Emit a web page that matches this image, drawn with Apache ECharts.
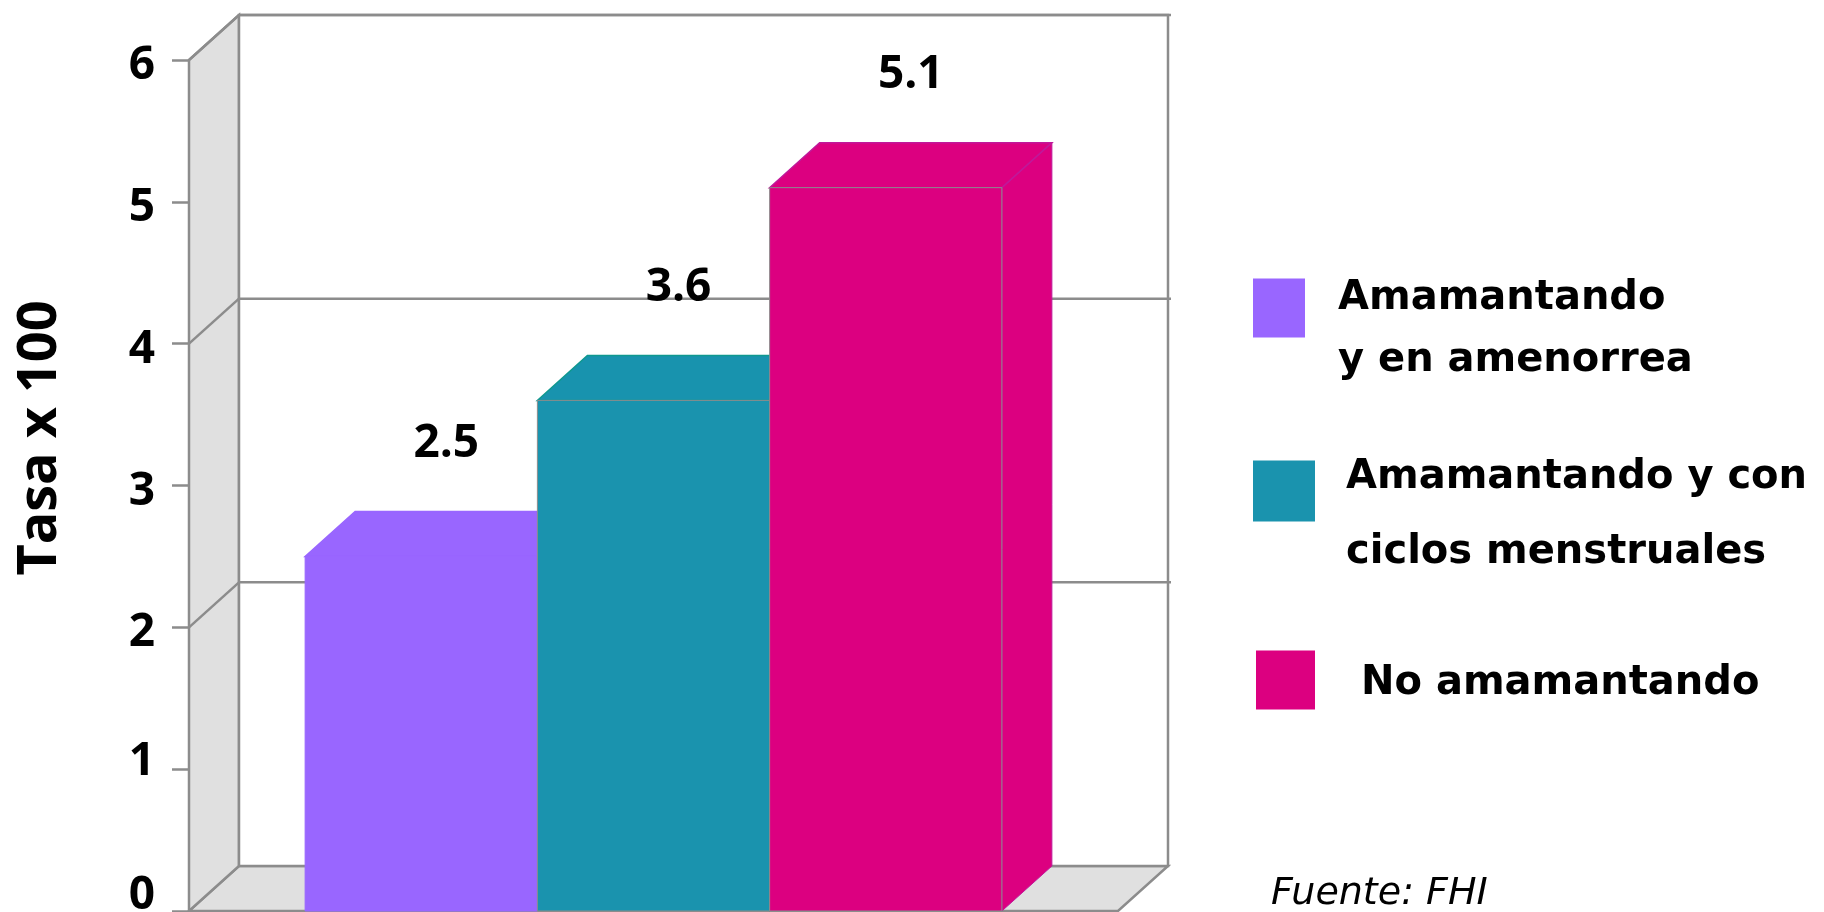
<!DOCTYPE html>
<html>
<head>
<meta charset="utf-8">
<script src="https://cdn.jsdelivr.net/npm/echarts@6/dist/echarts.min.js"></script>
<style>
html, body { margin: 0; padding: 0; background: #fff; }
#chart { width: 1824px; height: 912px; }
</style>
</head>
<body>
<div id="chart"></div>
<script>
// datos
var seriesNames = ['Amamantando\ny en amenorrea', 'Amamantando y con\nciclos menstruales', 'No amamantando']
var seriesValues = [2.5, 3.6, 5.1]
var yTicks = [0, 1, 2, 3, 4, 5, 6]
var gridValues = [2, 4, 6]
var axisTitle = 'Tasa x 100'
var sourceText = 'Fuente: FHI'

// estilos
var frontColors = ['#9966FF', '#1A93AE', '#DC0080']
var topColors = ['#9966FF', '#1893AE', '#DC0080']
var edgeColors = ['#9966FF', '#0E9890', '#C0189A']
var DX = 50, DY = -45        // profundidad del efecto 3D
var frameColor = '#8C8C8C'
var wallColor = '#E0E0E0'
var FONT = '"Open Sans", "DejaVu Sans", sans-serif'
var WIDE = '"DejaVu Sans", sans-serif'

var chart = echarts.init(document.getElementById('chart'))

/* paredes, suelo y lineas de division */
function renderFrame(params, api) {
  var base = api.coord([0, yTicks[0]])
  var band = api.size([1, 0])[0]
  var x0 = base[0] - band / 2, x1 = base[0] + band / 2
  var y0 = base[1]
  var yTop = api.coord([0, yTicks[yTicks.length - 1]])[1]
  var line = {stroke: frameColor, lineWidth: 2.5}
  var children = [
    {type: 'polygon', shape: {points: [[x0, y0], [x1, y0], [x1 + DX, y0 + DY], [x0 + DX, y0 + DY]]},
      style: {fill: wallColor, stroke: frameColor, lineWidth: 2.5}},
    {type: 'polygon', shape: {points: [[x0, y0], [x0, yTop], [x0 + DX, yTop + DY], [x0 + DX, y0 + DY]]},
      style: {fill: wallColor, stroke: frameColor, lineWidth: 2.5}},
    {type: 'rect', shape: {x: x0 + DX, y: yTop + DY, width: x1 - x0, height: y0 - yTop},
      style: {fill: '#fff', stroke: frameColor, lineWidth: 2.5}}
  ]
  gridValues.forEach(function (v) {
    var y = api.coord([0, v])[1]
    children.push({type: 'line', shape: {x1: x0 + DX, y1: y + DY, x2: x1 + DX + 3, y2: y + DY}, style: line})
    children.push({type: 'line', shape: {x1: x0, y1: y, x2: x0 + DX, y2: y + DY}, style: line})
  })
  return {type: 'group', children: children}
}

/* barras con cara frontal, superior y lateral */
function makeBarRenderer(i) {
  return function (params, api) {
    var base = api.coord([0, 0])
    var val = api.value(1)
    var yt = api.coord([0, val])[1]
    var yb = base[1]
    var band = api.size([1, 0])[0]
    var w = band * 0.25
    var x = base[0] - band * 0.375 + i * w
    return {
      type: 'group',
      children: [
        {type: 'polygon', shape: {points: [[x + w, yt], [x + w + DX, yt + DY], [x + w + DX, yb + DY], [x + w, yb]]},
          style: {fill: frontColors[i], stroke: edgeColors[i], lineWidth: 1}},
        {type: 'polygon', shape: {points: [[x, yt], [x + w, yt], [x + w + DX, yt + DY], [x + DX, yt + DY]]},
          style: {fill: topColors[i], stroke: edgeColors[i], lineWidth: 1.5}},
        {type: 'rect', shape: {x: x, y: yt, width: w, height: yb - yt},
          style: {fill: frontColors[i], stroke: i > 0 ? frameColor : frontColors[i], lineWidth: 1}},
        {type: 'text', style: {text: String(val), x: x + w / 2 + DX / 2, y: yt + DY - 68,
          align: 'center', verticalAlign: 'middle', fill: '#000', font: 'bold 46px ' + FONT}}
      ]
    }
  }
}

var series = [{
  type: 'custom', name: 'marco', silent: true, clip: false,
  data: [[0, 0]], renderItem: renderFrame
}]
seriesNames.forEach(function (name, i) {
  series.push({
    type: 'custom', name: name, clip: false,
    itemStyle: {color: frontColors[i]},
    encode: {x: 0, y: 1},
    data: [[0, seriesValues[i]]],
    renderItem: makeBarRenderer(i)
  })
})

/* leyenda: una linea vacia arriba baja el texto para alinear la 1a linea con el cuadro */
function legendItem(name, left, top, w, h, gap, lineH, indent) {
  return {
    data: [name], left: left, top: top, padding: 0, icon: 'rect', itemWidth: w, itemHeight: h,
    selectedMode: false,
    formatter: function (n) {
      return '{gap| }\n' + n.split('\n').map(function (s) { return '{t|' + s + '}' }).join('\n')
    },
    textStyle: {
      color: '#000', fontFamily: WIDE, fontWeight: 'bold', fontSize: 40,
      rich: {
        gap: {lineHeight: gap, fontSize: 10},
        t: {color: '#000', fontFamily: WIDE, fontWeight: 'bold', fontSize: 40, lineHeight: lineH, padding: [0, 0, 0, indent]}
      }
    }
  }
}

var tickFont = {fontFamily: FONT, fontWeight: 'bold', fontSize: 46, color: '#000'}
var option = {
  animation: false,
  grid: {left: 189, top: 60, width: 929, height: 851, containLabel: false, outerBoundsMode: 'none'},
  xAxis: {
    type: 'category', data: ['Tasa'],
    axisLine: {show: false}, axisTick: {show: false}, axisLabel: {show: false}, splitLine: {show: false}
  },
  yAxis: {
    type: 'value', min: yTicks[0], max: yTicks[yTicks.length - 1], interval: yTicks[1] - yTicks[0],
    axisLine: {show: true, lineStyle: {color: frameColor, width: 2.5}},
    axisTick: {show: true, length: 17, lineStyle: {color: frameColor, width: 2.5}},
    splitLine: {show: false},
    axisLabel: {
      margin: 34, color: '#000',
      formatter: function (v) { return (v === 0 ? '{z|' : v === 1 ? '{one|' : '{n|') + v + '}' },
      rich: {
        n: Object.assign({padding: [12, 0, 0, 0]}, tickFont),
        one: Object.assign({padding: [0, 0, 14, 0]}, tickFont),
        z: Object.assign({padding: [0, 0, 30, 0]}, tickFont)
      }
    }
  },
  legend: [
    legendItem(seriesNames[0], 1253, 241, 52, 59, 43, 62, 28),
    legendItem(seriesNames[1], 1253, 411, 62, 61, 48, 75, 26),
    legendItem(seriesNames[2], 1256, 644, 59, 59, 8, 62, 41)
  ],
  graphic: [
    {type: 'text', x: 41, y: 438, rotation: Math.PI / 2,
      style: {text: axisTitle, align: 'center', verticalAlign: 'middle', fill: '#000', font: 'bold 54px ' + FONT}},
    {type: 'text', x: 1271, y: 894,
      style: {text: sourceText, align: 'left', verticalAlign: 'middle', fill: '#000', font: 'italic 38px ' + WIDE}}
  ],
  series: series
}
chart.setOption(option)
</script>
</body>
</html>
